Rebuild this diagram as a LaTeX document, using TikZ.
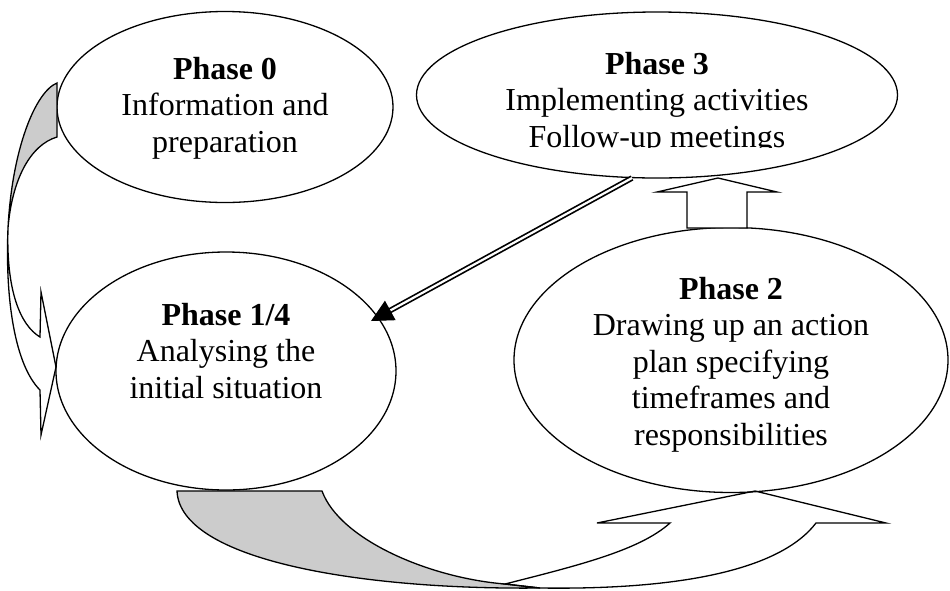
\documentclass[tikz,border=0pt]{standalone}
\usepackage{fontspec}
\setmainfont{Liberation Serif}
\usetikzlibrary{arrows.meta,calc,shapes.geometric}
\definecolor{shade}{RGB}{204,204,204}
\begin{document}
\begin{tikzpicture}[x=1pt,y=-1pt,line width=1.3pt,
  phase/.style={draw,ellipse,inner sep=0pt},
  txt/.style={align=center,anchor=north,inner sep=0pt,font=\fontsize{32}{36.5}\selectfont},
  back/.style={draw,fill=shade},
  front/.style={draw},
  blockarrow/.style={draw,fill=white}]
\useasboundingbox (0,0) rectangle (950,590);

% ellipses
\node[phase,minimum width=336pt,minimum height=191pt] (p0) at (225,107) {};
\node[phase,minimum width=481pt,minimum height=166pt] (p3) at (657,95) {};
\node[phase,minimum width=340pt,minimum height=238pt] (p1) at (226,371) {};
\node[phase,minimum width=434pt,minimum height=265pt] (p2) at (731,360) {};

% texts
\node[txt] (t0) at (225,56.4) {\textbf{Phase 0}\\Information and\\preparation};
\begin{scope}
  \clip (400,0) rectangle (900,147.5);
  \node[txt] (t3) at (657,51.4) {\textbf{Phase 3}\\Implementing activities\\Follow-up meetings};
\end{scope}
\node[txt] (t1) at (226,302.4) {\textbf{Phase 1/4}\\Analysing the\\initial situation};
\node[txt] (t2) at (731,276.4) {\textbf{Phase 2}\\Drawing up an action\\plan specifying\\timeframes and\\responsibilities};

% left curved arrow (back face)
\path[back] (57,83) .. controls (35,92) and (12,150) .. (8,228)
  .. controls (12,180) and (30,145) .. (57,137) -- cycle;
% left curved arrow (front face)
\draw[front] (8,228) .. controls (5,300) and (15,365) .. (40,390)
  -- (41,435) -- (56,367) -- (41,292) -- (40,337)
  .. controls (20,325) and (6,290) .. (8,228);

% bottom curved arrow (back face)
\path[back] (177,491) -- (322,491) .. controls (340,540) and (430,578) .. (505,584)
  -- (540,588) .. controls (360,590) and (180,560) .. (177,491) -- cycle;
% bottom curved arrow (front face)
\draw[front] (505,584) .. controls (580,565) and (640,550) .. (670,523)
  -- (597,523) -- (755,491) -- (886,523) -- (816,523)
  .. controls (780,570) and (680,590) .. (540,588) -- cycle;

% block arrow Phase 2 -> Phase 3
\draw[blockarrow] (687,228) -- (687,192) -- (657,192) -- (718,178) -- (777,192)
  -- (747,192) -- (747,228) -- cycle;

% double-line arrow Phase 3 -> Phase 1/4
\coordinate (dS) at (632,178);
\coordinate (dE) at (371,321);
\draw[double,double distance=2.2pt,line width=1.7pt,shorten >=18pt] (dS) -- (dE);
\draw[-{Triangle[length=22pt,width=22pt]},line width=1pt] ($(dE)!22pt!(dS)$) -- (dE);
\end{tikzpicture}
\end{document}
